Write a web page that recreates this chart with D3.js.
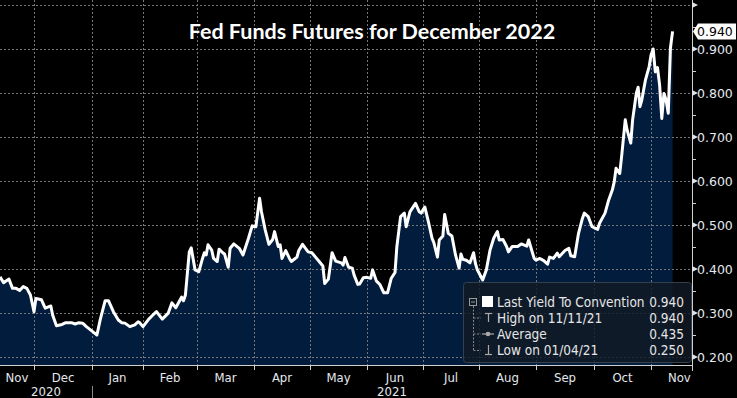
<!DOCTYPE html>
<html><head><meta charset="utf-8">
<script src="https://cdn.jsdelivr.net/npm/d3@7/dist/d3.min.js"></script>
<style>html,body{margin:0;padding:0;background:#000;overflow:hidden}</style>
</head><body><svg id="c" width="737" height="398"></svg>
<script>
const title = "Fed Funds Futures for December 2022";
const dates = ["2020-11-12","2020-11-14","2020-11-17","2020-11-19","2020-11-21","2020-11-23","2020-11-25","2020-11-27","2020-11-29",
"2020-12-01","2020-12-02","2020-12-05","2020-12-07","2020-12-10","2020-12-11","2020-12-13","2020-12-16","2020-12-18","2020-12-21","2020-12-23","2020-12-25","2020-12-27","2020-12-29",
"2021-01-02","2021-01-04","2021-01-06","2021-01-09","2021-01-11","2021-01-14","2021-01-17","2021-01-19","2021-01-21","2021-01-24","2021-01-27","2021-01-29","2021-01-30",
"2021-02-01","2021-02-04","2021-02-06","2021-02-08","2021-02-11","2021-02-14","2021-02-16","2021-02-18","2021-02-21","2021-02-22","2021-02-23","2021-02-25","2021-02-26","2021-02-28",
"2021-03-02","2021-03-04","2021-03-05","2021-03-06","2021-03-07","2021-03-09","2021-03-10","2021-03-12","2021-03-13","2021-03-15","2021-03-16","2021-03-18","2021-03-19","2021-03-21","2021-03-24","2021-03-26","2021-03-29","2021-03-31",
"2021-04-02","2021-04-04","2021-04-05","2021-04-07","2021-04-09","2021-04-11","2021-04-12","2021-04-14","2021-04-15","2021-04-16","2021-04-18","2021-04-20","2021-04-21","2021-04-24","2021-04-25","2021-04-27","2021-04-30",
"2021-05-02","2021-05-04","2021-05-06","2021-05-08","2021-05-09","2021-05-11","2021-05-13","2021-05-15","2021-05-18","2021-05-19","2021-05-20","2021-05-22","2021-05-24","2021-05-25","2021-05-27","2021-05-28","2021-05-30",
"2021-06-01","2021-06-03","2021-06-04","2021-06-06","2021-06-08","2021-06-10","2021-06-12","2021-06-14","2021-06-16","2021-06-17","2021-06-19","2021-06-21","2021-06-22","2021-06-24","2021-06-27","2021-06-29","2021-06-30",
"2021-07-02","2021-07-04","2021-07-06","2021-07-07","2021-07-09","2021-07-10","2021-07-12","2021-07-13","2021-07-15","2021-07-17","2021-07-19","2021-07-21","2021-07-22","2021-07-23","2021-07-25","2021-07-27","2021-07-29","2021-07-30","2021-07-31",
"2021-08-03","2021-08-05","2021-08-07","2021-08-09","2021-08-11","2021-08-12","2021-08-14","2021-08-16","2021-08-17","2021-08-19","2021-08-22","2021-08-24","2021-08-27","2021-08-28","2021-08-31",
"2021-09-01","2021-09-03","2021-09-05","2021-09-07","2021-09-08","2021-09-10","2021-09-12","2021-09-13","2021-09-16","2021-09-18","2021-09-19","2021-09-21","2021-09-23","2021-09-25","2021-09-26","2021-09-28","2021-09-30",
"2021-10-03","2021-10-04","2021-10-07","2021-10-09","2021-10-11","2021-10-12","2021-10-13","2021-10-15","2021-10-16","2021-10-18","2021-10-19","2021-10-21","2021-10-22","2021-10-24","2021-10-25","2021-10-26","2021-10-27","2021-10-29","2021-10-31",
"2021-11-01","2021-11-02","2021-11-03","2021-11-04","2021-11-05","2021-11-06","2021-11-07","2021-11-08","2021-11-09","2021-11-10","2021-11-11"];
const values = [0.382,0.369,0.377,0.356,0.356,0.351,0.360,0.356,0.341,
0.303,0.333,0.330,0.311,0.316,0.295,0.271,0.274,0.278,0.278,0.275,0.278,0.277,0.269,
0.256,0.250,0.285,0.328,0.328,0.303,0.284,0.278,0.277,0.269,0.273,0.280,0.278,
0.269,0.286,0.295,0.303,0.286,0.299,0.323,0.312,0.336,0.328,0.341,0.439,0.448,0.398,
0.394,0.424,0.437,0.432,0.455,0.443,0.424,0.417,0.445,0.437,0.434,0.404,0.447,0.457,0.447,0.432,0.470,0.498,
0.496,0.561,0.530,0.489,0.456,0.467,0.485,0.451,0.455,0.424,0.442,0.424,0.417,0.427,0.442,0.456,0.439,
0.437,0.427,0.417,0.407,0.367,0.377,0.437,0.418,0.414,0.409,0.426,0.404,0.402,0.386,0.365,0.366,0.380,
0.381,0.379,0.398,0.373,0.364,0.346,0.346,0.379,0.392,0.451,0.519,0.527,0.496,0.530,0.549,0.530,0.527,
0.541,0.507,0.470,0.460,0.427,0.466,0.475,0.524,0.481,0.475,0.432,0.402,0.434,0.422,0.420,0.414,0.437,0.413,0.399,
0.375,0.398,0.443,0.470,0.485,0.466,0.467,0.451,0.439,0.451,0.451,0.457,0.452,0.466,0.424,
0.420,0.424,0.419,0.411,0.427,0.424,0.436,0.428,0.442,0.447,0.430,0.428,0.481,0.515,0.527,0.519,0.496,
0.490,0.504,0.527,0.557,0.580,0.598,0.629,0.617,0.655,0.739,0.716,0.686,0.739,0.799,0.813,0.769,0.784,0.830,0.860,
0.886,0.900,0.848,0.858,0.818,0.742,0.799,0.784,0.754,0.902,0.940];
const yTicks = [0.2,0.3,0.4,0.5,0.6,0.7,0.8,0.9];
const yMinorTicks = [0.25,0.35,0.45,0.55,0.65,0.75,0.85,0.95];
const monthLabels = ["Nov","Dec","Jan","Feb","Mar","Apr","May","Jun","Jul","Aug","Sep","Oct","Nov"];
const monthStarts = ["2020-11-01","2020-12-01","2021-01-01","2021-02-01","2021-03-01","2021-04-01","2021-05-01","2021-06-01","2021-07-01","2021-08-01","2021-09-01","2021-10-01","2021-11-01","2021-12-01"];
const yearLabels = ["2020","2021"];
const lastValueLabel = "0.940";
const legendNames = ["Last Yield To Convention","High on 11/11/21","Average","Low on 01/04/21"];
const legendValues = ["0.940","0.940","0.435","0.250"];

const parse = d3.timeParse("%Y-%m-%d");
const data = dates.map((d,i)=>({date:parse(d), value:values[i]}));
const svg = d3.select("#c");
const W = 737, H = 398, axisX = 692, plotBottom = 365;

// calibrated (trading-day-like) time axis
const calDates = ["2020-11-12","2020-12-01","2021-01-01","2021-02-01","2021-03-01","2021-04-01","2021-05-01","2021-06-01","2021-07-01","2021-08-01","2021-09-01","2021-10-01","2021-11-01","2021-11-20"].map(parse);
const calPx = [0,34,92,143,197,254,310,367,423,479,536,594,651,692];
const x = d3.scaleTime().domain(calDates).range(calPx);
const y = d3.scaleLinear().domain([0.2,1.0]).range([357,5]);

svg.append("rect").attr("width",W).attr("height",H).attr("fill","#000");

// area
svg.append("path").datum(data)
  .attr("fill","#021c3d")
  .attr("d", d3.area().x(d=>x(d.date)).y0(plotBottom).y1(d=>y(d.value)));

// grid
const grid = svg.append("g").attr("stroke","#767676").attr("stroke-width",1).attr("stroke-dasharray","2,2");
grid.selectAll("line.h").data(yTicks.concat([1.0])).join("line")
  .attr("x1",0).attr("x2",axisX).attr("y1",d=>Math.round(y(d))+0.5).attr("y2",d=>Math.round(y(d))+0.5);
const monthDates = monthStarts.map(parse);
grid.selectAll("line.v").data(monthDates.slice(1,13)).join("line")
  .attr("x1",d=>Math.round(x(d))+0.5).attr("x2",d=>Math.round(x(d))+0.5).attr("y1",0).attr("y2",plotBottom);

// line
svg.append("path").datum(data)
  .attr("fill","none").attr("stroke","#fff").attr("stroke-width",3).attr("stroke-linejoin","round")
  .attr("d", d3.line().x(d=>x(d.date)).y(d=>y(d.value)));

// title
svg.append("text").attr("x",372).attr("y",39).attr("text-anchor","middle")
  .attr("fill","#fff").attr("font-family","Lato, 'Open Sans', sans-serif").attr("font-weight","bold")
  .attr("font-size",21.5).text(title);

// legend box
const lg = svg.append("g");
lg.append("rect").attr("x",463.5).attr("y",282.5).attr("width",228).attr("height",80).attr("rx",3)
  .attr("fill","rgba(18,26,36,0.82)").attr("stroke","#33404e");
const rowY = [307,323,339,355];
const lf = "'DejaVu Sans Condensed','DejaVu Sans',sans-serif";
lg.selectAll("text.n").data(legendNames).join("text")
  .attr("x",497).attr("y",(d,i)=>rowY[i]).attr("fill","#e6e6e6").attr("font-family",lf).attr("font-size",13.5).text(d=>d);
lg.selectAll("text.v").data(legendValues).join("text")
  .attr("x",684).attr("y",(d,i)=>rowY[i]).attr("text-anchor","end").attr("fill","#e6e6e6").attr("font-family",lf).attr("font-size",13.5).text(d=>d);
// icons
lg.append("rect").attr("x",469.5).attr("y",298.5).attr("width",7).attr("height",7).attr("fill","none").attr("stroke","#999");
lg.append("line").attr("x1",471).attr("x2",475).attr("y1",302).attr("y2",302).attr("stroke","#999");
lg.append("rect").attr("x",482).attr("y",296).attr("width",11).attr("height",11).attr("fill","#fff");
const tree = lg.append("g").attr("stroke","#888").attr("stroke-dasharray","2,1.5").attr("fill","none");
tree.append("line").attr("x1",473.5).attr("x2",473.5).attr("y1",306).attr("y2",351);
[318,334,350.5].forEach(v=>tree.append("line").attr("x1",473.5).attr("x2",481).attr("y1",v).attr("y2",v));
const ic = lg.append("g").attr("stroke","#aaa").attr("stroke-width",1.2).attr("fill","none");
ic.append("line").attr("x1",485).attr("x2",492).attr("y1",313.5).attr("y2",313.5);
ic.append("line").attr("x1",488.5).attr("x2",488.5).attr("y1",313.5).attr("y2",322);
ic.append("line").attr("x1",482).attr("x2",494).attr("y1",334).attr("y2",334);
lg.append("circle").attr("cx",488).attr("cy",334).attr("r",2.3).attr("fill","#aaa");
ic.append("line").attr("x1",485).attr("x2",492).attr("y1",354.5).attr("y2",354.5);
ic.append("line").attr("x1",488.5).attr("x2",488.5).attr("y1",345).attr("y2",354.5);

// right axis
const ax = svg.append("g");
ax.append("line").attr("x1",axisX+0.5).attr("x2",axisX+0.5).attr("y1",0).attr("y2",371).attr("stroke","#d0d0d0");
ax.selectAll("path.tk").data(yTicks.concat([1.0])).join("path")
  .attr("d",d=>{const yy=y(d);return `M${axisX},${yy-3}L${axisX+6},${yy}L${axisX},${yy+3}Z`;}).attr("fill","#e0e0e0");
ax.selectAll("line.mn").data(yMinorTicks).join("line")
  .attr("x1",axisX).attr("x2",axisX+4).attr("y1",d=>Math.round(y(d))+0.5).attr("y2",d=>Math.round(y(d))+0.5).attr("stroke","#d0d0d0");
ax.selectAll("text").data(yTicks).join("text")
  .attr("x",697).attr("y",d=>y(d)+4.5).attr("fill","#e4e8ee").attr("font-family","'DejaVu Sans',sans-serif").attr("font-size",12.5)
  .text(d=>d.toFixed(3));
// last value tag
const lastY = y(values[values.length-1]);
svg.append("path").attr("d",`M${axisX+1},${lastY}L${axisX+6},${lastY-8}L736,${lastY-8}L736,${lastY+8}L${axisX+6},${lastY+8}Z`).attr("fill","#fff");
svg.append("text").attr("x",697).attr("y",lastY+4.5).attr("fill","#000").attr("font-family","'DejaVu Sans',sans-serif").attr("font-size",12.5).text(lastValueLabel);

// bottom axis
const bx = svg.append("g");
bx.append("line").attr("x1",0).attr("x2",axisX).attr("y1",plotBottom+0.5).attr("y2",plotBottom+0.5).attr("stroke","#d0d0d0");
bx.selectAll("line.t").data(monthDates.slice(1,13)).join("line")
  .attr("x1",d=>Math.round(x(d))+0.5).attr("x2",d=>Math.round(x(d))+0.5).attr("y1",plotBottom).attr("y2",plotBottom+5).attr("stroke","#d0d0d0");
const mf = "'DejaVu Sans Condensed','DejaVu Sans',sans-serif";
bx.selectAll("text.m").data(monthLabels).join("text")
  .attr("x",(d,i)=>(Math.max(0,x(monthDates[i]))+x(monthDates[i+1]))/2 - (i===12?4:0))
  .attr("y",382).attr("text-anchor","middle").attr("fill","#e4e8ee").attr("font-family",mf).attr("font-size",13).text(d=>d);
const jan = x(monthDates[2]);
bx.selectAll("text.y").data(yearLabels).join("text")
  .attr("x",(d,i)=> i===0 ? jan/2 : (jan+axisX)/2).attr("y",396).attr("text-anchor","middle")
  .attr("fill","#e4e8ee").attr("font-family",mf).attr("font-size",13).text(d=>d);
bx.append("line").attr("x1",Math.round(jan)+0.5).attr("x2",Math.round(jan)+0.5).attr("y1",386).attr("y2",398).attr("stroke","#888");
</script></body></html>
